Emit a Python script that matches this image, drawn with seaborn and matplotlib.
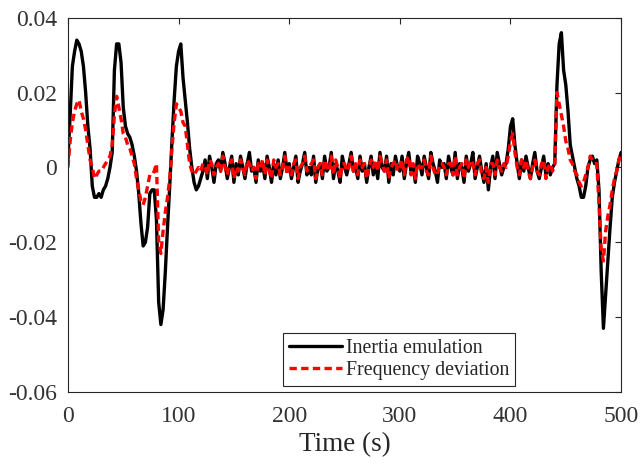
import numpy as np
import pandas as pd
import matplotlib
matplotlib.use("Agg")
import matplotlib.pyplot as plt
import seaborn as sns
from matplotlib.ticker import FuncFormatter

# values, in units of 1e-3, one sample every 2 s (0..500 s)
time_s = np.arange(0, 501, 2)

inertia_emulation = [
    2, 14, 27, 31, 34, 33, 31, 27, 20, 11,
    5, -5, -8, -8, -7, -8, -6, -5, -3, 0,
    4, 26, 33, 33, 28, 16, 11, 9, 8, 6,
    3, -1, -7, -15, -21, -20, -16, -7, -6, -6,
    -14, -36, -42, -38, -28, -16, -5, 7, 18, 27,
    31, 33, 24, 18, 12, 5, 0, -4, -6, -5,
    -3, -1, 2, -3, 3, 0, -4, 1, 2, -1,
    4, 1, -3, 0, 3, -4, 1, -2, 3, 0,
    -3, 1, 4, -1, 0, -4, 2, -1, 1, -3,
    3, 0, -4, 1, -2, 2, -3, 0, 4, -1,
    1, -3, 0, 3, -4, -1, 1, 4, -2, 0,
    -2, 3, -4, 0, 1, -3, 3, -1, 0, 4,
    -3, 1, -1, -4, 3, 0, -2, 1, 4, -1,
    0, -3, 3, -1, 1, -4, 0, 3, -2, 1,
    -3, 4, 0, -1, 3, -4, 1, -2, 3, 0,
    -1, 3, -3, 1, 4, -1, 0, -4, 3, 1,
    -2, 3, 0, -3, 4, 1, -1, -4, 2, 0,
    1, -3, 3, 0, -2, 4, -3, 1, 0, -4,
    3, -1, 1, 4, -3, 0, 3, -1, -4, 1,
    -6, 0, 3, -3, 4, 1, -2, 0, 1, 5,
    11, 13, 6, 1, -3, 2, -1, 3, 0, -3,
    1, 4, -1, -3, 0, 3, -2, 1, -2, 0,
    1, 22, 33, 36, 26, 22, 15, 6, 3, 0,
    -3, -5, -8, -8, -5, 0, 2, 3, 1, 2,
    -6, -28, -43, -34, -25, -16, -8, -4, -1, 2,
    4,
]

frequency_deviation = [
    0, 7, 12, 15, 17, 18, 15, 13, 10, 6,
    2, 0, -3, -2, -1, -1, 0, 1, 2, 3,
    6, 14, 19, 16, 13, 9, 8, 6, 5, 3,
    1, -3, -6, -9, -10, -8, -5, -2, -2, -1,
    1, -20, -23, -17, -12, -8, -3, 5, 12, 17,
    16, 15, 12, 11, 6, 1, -1, -2, -1, 0,
    -1, 1, 0, -2, 2, 1, -2, 0, 1, -1,
    3, 0, -2, 1, 2, -3, 0, -1, 2, 0,
    -2, 2, 1, -1, 0, -3, 1, 0, 2, -2,
    2, -1, -3, 2, 0, 1, -2, 0, 3, -2,
    0, -2, 1, 2, -3, 0, 1, 3, -1, 0,
    1, 2, -3, 0, 1, -2, 2, 0, -1, 3,
    -2, 2, 0, -3, 1, 1, -1, 0, 3, -1,
    1, -2, 2, 0, 1, -3, 0, 2, 0, 2,
    -1, 3, 1, -1, 2, -3, 0, 1, 2, -1,
    0, 2, -2, 2, 3, -2, 1, -3, 1, 0,
    0, 2, -1, -2, 3, 0, -2, -2, 1, 1,
    0, -2, 1, 1, -2, 3, -2, 0, 1, -3,
    2, 0, 2, 1, -2, 1, 2, -2, -3, 0,
    -4, 1, 1, -2, 2, 0, -1, 1, 0, 3,
    7, 9, 4, 0, -2, 2, 0, 2, -1, -3,
    0, 2, -1, -2, 1, 2, -3, 0, 1, -1,
    1, 20, 17, 14, 11, 7, 5, 2, 1, -1,
    -2, -4, -5, -4, -2, 0, 3, 2, 1, 1,
    -10, -22, -25, -17, -13, -10, -6, -3, -1, 2,
    4,
]

df = pd.DataFrame({
    "t": time_s,
    "inertia": np.array(inertia_emulation) * 1e-3,
    "freq": np.array(frequency_deviation) * 1e-3,
})

sns.set_style("white")
plt.rcParams["font.family"] = ["Liberation Serif", "DejaVu Serif"]
plt.rcParams["axes.unicode_minus"] = False

fig = plt.figure(figsize=(6.41, 4.66), dpi=100)
ax = fig.add_axes([0.106, 0.159, 0.863, 0.803])

sns.lineplot(data=df, x="t", y="inertia", ax=ax, color="black", lw=2.4,
             label="Inertia emulation")
sns.lineplot(data=df, x="t", y="freq", ax=ax, color="#ff0000", lw=2.4,
             linestyle=(0, (2.2, 1.3)), label="Frequency deviation")

ax.set_xlim(0, 500)
ax.set_ylim(-0.06, 0.04)
ax.set_xticks(range(0, 501, 100))
ax.set_yticks([-0.06, -0.04, -0.02, 0, 0.02, 0.04])
ax.yaxis.set_major_formatter(FuncFormatter(lambda v, p: "0" if abs(v) < 1e-12 else f"{v:.2f}"))
ax.set_xlabel("Time (s)", fontsize=19.5, labelpad=4, color="#262626")
ax.set_ylabel("")
ax.tick_params(direction="in", length=4, width=0.8, colors="#262626",
               labelcolor="#333333", labelsize=17, top=True, right=True)
ax.tick_params(axis="x", pad=10)
ax.tick_params(axis="y", pad=8)
for s in ax.spines.values():
    s.set_visible(True)
    s.set_color("#262626")
    s.set_linewidth(0.8)

leg = ax.legend(loc="lower left", bbox_to_anchor=(0.388, 0.016), fontsize=14.3,
                frameon=True, fancybox=False, edgecolor="#262626", framealpha=1,
                handlelength=2.7, handletextpad=0.2, borderpad=0.3,
                labelspacing=0.15, borderaxespad=0)
leg.get_frame().set_linewidth(0.8)
for txt in leg.get_texts():
    txt.set_color("#262626")

fig.savefig("out.png", dpi=100)
